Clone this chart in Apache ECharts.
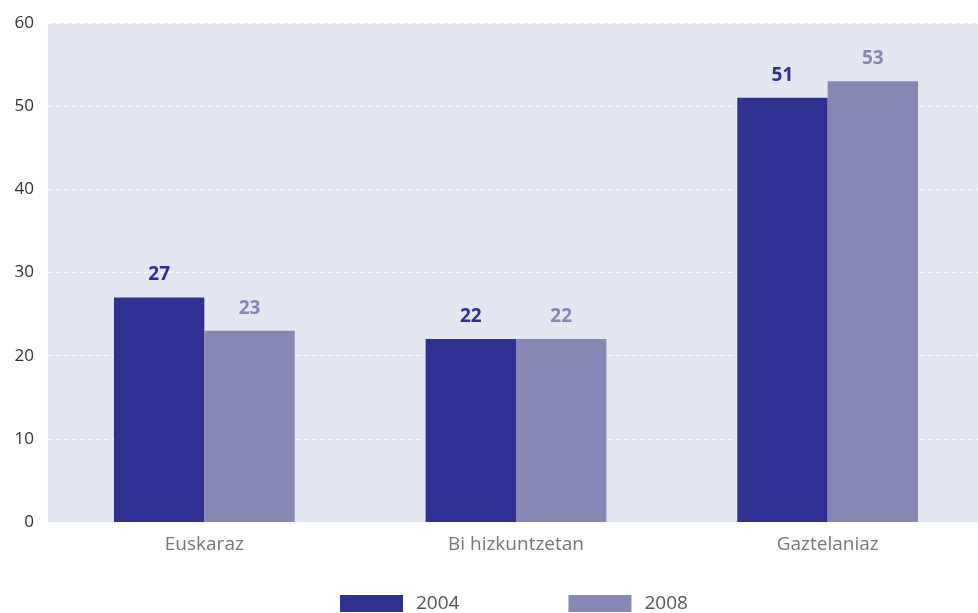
<!DOCTYPE html>
<html><head><meta charset="utf-8">
<script src="https://cdn.jsdelivr.net/npm/echarts@6/dist/echarts.min.js"></script>
<style>html,body{margin:0;padding:0;background:#fff}#c{width:978px;height:613px}</style>
</head><body><div id="c"></div>
<script>
const categories = ['Euskaraz', 'Bi hizkuntzetan', 'Gaztelaniaz'];
const series2004 = [27, 22, 51];
const series2008 = [23, 22, 53];
const seriesNames = ['2004', '2008'];
const yTicks = [0, 10, 20, 30, 40, 50, 60];

const font = 'Open Sans';
const c1 = '#2e3192', c2 = '#8687b5';
const chart = echarts.init(document.getElementById('c'));
chart.setOption({
  animation: false,
  textStyle: { fontFamily: font },
  graphic: [{ type: 'rect', shape: { x: 48, y: 23, width: 930, height: 499 }, style: { fill: '#e4e6f2' }, z: -10, silent: true }],
  grid: { left: 48.5, width: 935, top: 23, height: 499, show: false, outerBoundsMode: 'none', containLabel: false },
  legend: {
    bottom: -5, left: 335, itemWidth: 63, itemHeight: 17, itemGap: 109,
    icon: 'rect',
    textStyle: { fontSize: 19, color: '#555', fontFamily: font, padding: [0,0,0,8] },
    data: seriesNames
  },
  xAxis: {
    type: 'category', data: categories,
    axisLine: { show: false }, axisTick: { show: false },
    axisLabel: { fontSize: 19, color: '#777', margin: 13, fontFamily: font }
  },
  yAxis: {
    type: 'value', min: 0, max: 60, interval: 10,
    axisLabel: { fontSize: 17, color: '#333', margin: 14.5, fontFamily: font,
      formatter: v => yTicks.includes(v) ? String(v) : '' },
    splitLine: { show: true, lineStyle: { color: '#ffffff', type: [4, 4], width: 1 } },
    axisLine: { show: false }, axisTick: { show: false }
  },
  series: [
    { name: seriesNames[0], type: 'bar', data: series2004, barGap: '0%', barCategoryGap: '42%',
      itemStyle: { color: c1 },
      label: { show: true, position: 'top', distance: 13, color: c1, fontWeight: 'bold', fontSize: 19, fontFamily: font } },
    { name: seriesNames[1], type: 'bar', data: series2008, barGap: '0%', barCategoryGap: '42%',
      itemStyle: { color: c2 },
      label: { show: true, position: 'top', distance: 13, color: c2, fontWeight: 'bold', fontSize: 19, fontFamily: font } }
  ]
});
</script></body></html>
